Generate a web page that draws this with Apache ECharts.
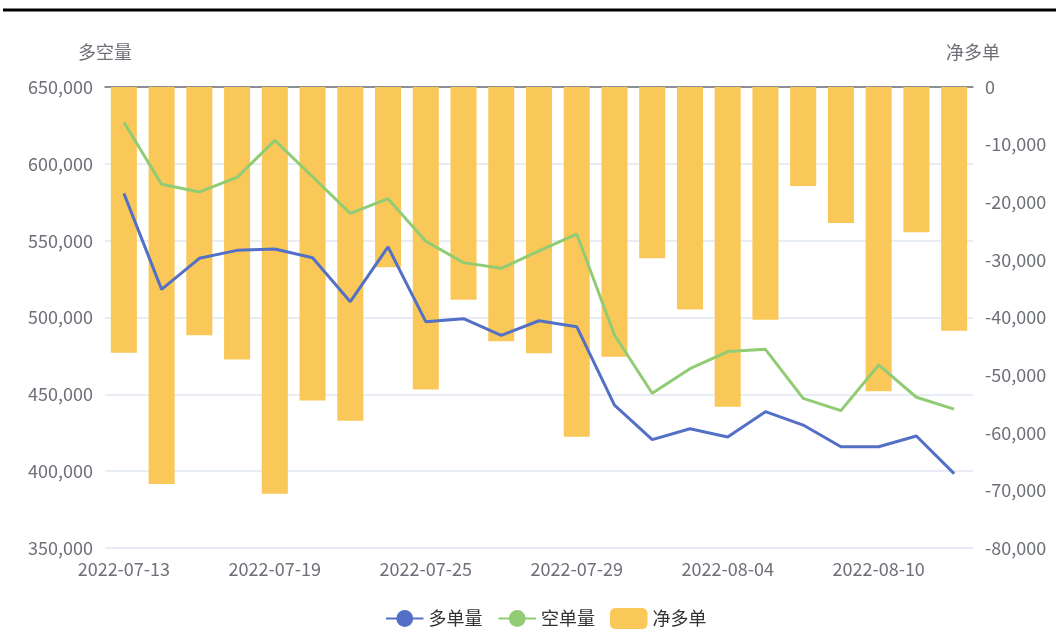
<!DOCTYPE html>
<html>
<head>
<meta charset="utf-8">
<script src="https://cdn.jsdelivr.net/npm/echarts@6/dist/echarts.min.js"></script>
<style>
html,body{margin:0;padding:0;background:#fff;}
#main{width:1056px;height:643px;}
</style>
</head>
<body>
<div id="main"></div>
<script>
const categories = ['2022-07-13','2022-07-14','2022-07-15','2022-07-18','2022-07-19','2022-07-20','2022-07-21','2022-07-22','2022-07-25','2022-07-26','2022-07-27','2022-07-28','2022-07-29','2022-08-01','2022-08-02','2022-08-03','2022-08-04','2022-08-05','2022-08-08','2022-08-09','2022-08-10','2022-08-11','2022-08-12'];
const longVolume = [580800,518300,538500,543700,544600,538900,510300,545900,497300,499200,488400,497900,494000,443000,420500,427600,422200,438700,430000,415900,415900,422900,398400];
const shortVolume = [627000,586700,581700,591200,615300,591600,567800,577300,549600,535700,532000,543300,554300,488600,450700,466700,477800,479300,447400,439400,469100,448100,440400];
const netLong = [-46100,-68900,-43100,-47300,-70600,-54400,-57900,-31300,-52500,-36900,-44100,-46200,-60700,-46800,-29700,-38600,-55500,-40400,-17200,-23600,-52800,-25200,-42300];
const leftAxisName = '多空量';
const rightAxisName = '净多单';
const seriesNames = ['多单量','空单量','净多单'];

const chart = echarts.init(document.getElementById('main'));
const txt = {color:'#6E7079', fontSize:18, fontFamily:'"Noto Sans CJK SC", "Noto Sans", sans-serif'};
chart.setOption({
  animation:false,
  color:['#5470c6','#91cc75','#fac858'],
  graphic:[{type:'rect', shape:{x:3,y:8.5,width:1053,height:3}, style:{fill:'#000'}, silent:true}],
  grid:{left:105,right:83,top:87,bottom:95,containLabel:false},
  legend:{
    data:seriesNames, left:385, top:608, padding:0,
    itemWidth:37.5, itemHeight:21, itemGap:15,
    textStyle:Object.assign({}, txt, {color:'#333'})
  },
  xAxis:[
    {type:'category', data:categories, position:'bottom',
     axisLine:{show:false}, axisTick:{show:false},
     axisLabel:Object.assign({interval:3, margin:12}, txt)},
    {type:'category', data:categories, position:'top',
     axisLine:{show:true, onZero:false, lineStyle:{color:'#6E7079', width:1.5}},
     axisTick:{show:false}, axisLabel:{show:false}}
  ],
  yAxis:[
    {type:'value', name:leftAxisName, min:350000, max:650000, interval:50000,
     nameGap:26, nameTextStyle:txt,
     axisLabel:Object.assign({margin:12}, txt),
     splitLine:{lineStyle:{color:'#E0E6F1', width:1.5}}},
    {type:'value', name:rightAxisName, min:-80000, max:0, interval:10000,
     nameGap:26, nameTextStyle:txt,
     axisLabel:Object.assign({margin:12}, txt),
     splitLine:{show:false}}
  ],
  series:[
    {name:seriesNames[0], type:'line', data:longVolume, yAxisIndex:0, xAxisIndex:0,
     symbol:'circle', showSymbol:false, symbolSize:9, lineStyle:{width:3}, z:3},
    {name:seriesNames[1], type:'line', data:shortVolume, yAxisIndex:0, xAxisIndex:0,
     symbol:'circle', showSymbol:false, symbolSize:9, lineStyle:{width:3}, z:3},
    {name:seriesNames[2], type:'bar', data:netLong, yAxisIndex:1, xAxisIndex:0,
     barWidth:'69%', z:1}
  ]
});
</script>
</body>
</html>
